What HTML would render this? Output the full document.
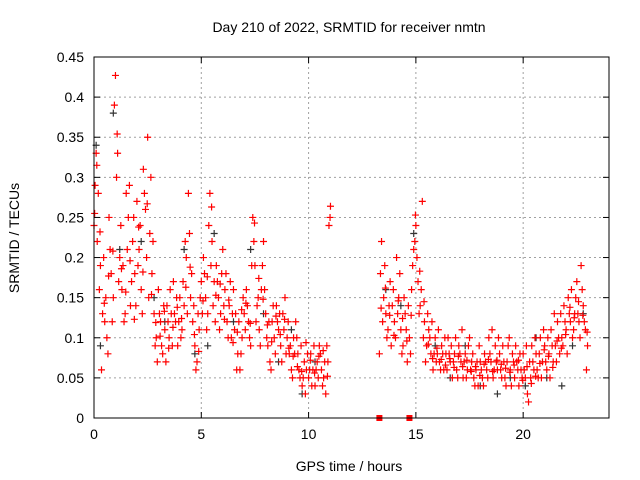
<!DOCTYPE html>
<html><head><meta charset="utf-8"><style>
body{margin:0;background:#fff;}
svg{display:block;font-family:"Liberation Sans",sans-serif;}
</style></head><body>
<svg id="chart" width="640" height="480">
<g id="grid"></g>
<g id="marks"></g>
<rect x="94" y="57" width="515" height="361" fill="none" stroke="#000" stroke-width="1"/>
<g id="axes"></g>
<text x="349" y="32" text-anchor="middle" font-size="14">Day 210 of 2022, SRMTID for receiver nmtn</text>
<text x="349" y="471" text-anchor="middle" font-size="14">GPS time / hours</text>
<text transform="translate(19,238) rotate(-90)" text-anchor="middle" font-size="14">SRMTID / TECUs</text>
</svg>
<script>
const xTicks=[0,5,10,15,20];
const yTicks=[0,0.05,0.1,0.15,0.2,0.25,0.3,0.35,0.4,0.45];
const yTickLabels=["0","0.05","0.1","0.15","0.2","0.25","0.3","0.35","0.4","0.45"];
const redPoints=[[0.0,0.24],[0.1,0.33],[0.2,0.28],[0.3,0.19],[0.4,0.13],[0.5,0.12],[0.6,0.10],[0.7,0.25],[0.8,0.18],[0.9,0.15],[1.0,0.427],[1.1,0.33],[1.2,0.20],[1.3,0.16],[1.4,0.12],[1.5,0.28],[1.6,0.25],[1.7,0.14],[1.8,0.22],[1.9,0.18],[2.0,0.27],[2.1,0.21],[2.2,0.16],[2.3,0.31],[2.4,0.26],[2.5,0.35],[2.6,0.23],[2.7,0.18],[2.8,0.13],[2.9,0.10],[3.0,0.16],[3.1,0.12],[3.2,0.08],[3.3,0.11],[3.4,0.14],[3.5,0.10],[3.6,0.13],[3.7,0.17],[3.8,0.12],[3.9,0.09],[4.0,0.15],[4.1,0.11],[4.2,0.14],[4.3,0.20],[4.4,0.28],[4.5,0.15],[4.6,0.12],[4.7,0.09],[4.8,0.07],[4.9,0.11],[5.0,0.17],[5.1,0.20],[5.2,0.15],[5.3,0.13],[5.4,0.28],[5.5,0.22],[5.6,0.17],[5.7,0.19],[5.8,0.15],[5.9,0.13],[6.0,0.21],[6.1,0.16],[6.2,0.12],[6.3,0.14],[6.4,0.10],[6.5,0.16],[6.6,0.13],[6.7,0.08],[6.8,0.06],[6.9,0.10],[7.0,0.13],[7.1,0.16],[7.2,0.12],[7.3,0.09],[7.4,0.25],[7.5,0.19],[7.6,0.14],[7.7,0.11],[7.8,0.16],[7.9,0.22],[8.0,0.13],[8.1,0.09],[8.2,0.07],[8.3,0.12],[8.4,0.10],[8.5,0.14],[8.6,0.11],[8.7,0.09],[8.8,0.13],[8.9,0.15],[9.0,0.10],[9.1,0.08],[9.2,0.06],[9.3,0.10],[9.4,0.12],[9.5,0.08],[9.6,0.05],[9.7,0.04],[9.8,0.07],[9.9,0.06],[10.0,0.05],[10.1,0.08],[10.2,0.06],[10.3,0.04],[10.4,0.07],[10.5,0.09],[10.6,0.06],[10.7,0.05],[10.8,0.03],[10.9,0.07],[11.0,0.25],
[13.3,0.08],[13.4,0.22],[13.5,0.15],[13.6,0.13],[13.7,0.11],[13.8,0.17],[13.9,0.14],[14.0,0.12],[14.1,0.20],[14.2,0.15],[14.3,0.11],[14.4,0.09],[14.5,0.13],[14.6,0.07],[14.7,0.10],[14.8,0.16],[14.9,0.21],[15.0,0.24],[15.1,0.17],[15.2,0.14],[15.3,0.27],[15.4,0.12],[15.5,0.09],[15.6,0.11],[15.7,0.08],[15.8,0.06],[15.9,0.10],[16.0,0.08],[16.1,0.07],[16.2,0.09],[16.3,0.06],[16.4,0.08],[16.5,0.10],[16.6,0.07],[16.7,0.05],[16.8,0.08],[16.9,0.06],[17.0,0.09],[17.1,0.07],[17.2,0.05],[17.3,0.08],[17.4,0.06],[17.5,0.10],[17.6,0.07],[17.7,0.05],[17.8,0.06],[17.9,0.04],[18.0,0.07],[18.1,0.05],[18.2,0.08],[18.3,0.06],[18.4,0.10],[18.5,0.07],[18.6,0.05],[18.7,0.09],[18.8,0.06],[18.9,0.08],[19.0,0.05],[19.1,0.07],[19.2,0.04],[19.3,0.09],[19.4,0.06],[19.5,0.08],[19.6,0.05],[19.7,0.07],[19.8,0.04],[19.9,0.06],[20.0,0.08],[20.1,0.05],[20.2,0.03],[20.3,0.07],[20.4,0.09],[20.5,0.06],[20.6,0.08],[20.7,0.05],[20.8,0.10],[20.9,0.07],[21.0,0.09],[21.1,0.06],[21.2,0.08],[21.3,0.11],[21.4,0.07],[21.5,0.09],[21.6,0.12],[21.7,0.08],[21.8,0.10],[21.9,0.14],[22.0,0.11],[22.1,0.15],[22.2,0.12],[22.3,0.10],[22.4,0.13],[22.5,0.17],[22.6,0.12],[22.7,0.19],[22.8,0.14],[22.9,0.11],[23.0,0.09]];
const redPoints2=[[0.05,0.29],[0.15,0.22],[0.25,0.16],[0.35,0.06],[0.45,0.20],[0.55,0.15],[0.65,0.08],[0.75,0.21],[0.85,0.12],[0.95,0.39],[1.05,0.30],[1.15,0.17],[1.25,0.24],[1.35,0.19],[1.45,0.13],[1.55,0.21],[1.65,0.29],[1.75,0.17],[1.85,0.25],[1.95,0.14],[2.05,0.19],[2.15,0.24],[2.25,0.13],[2.35,0.28],[2.45,0.20],[2.55,0.15],[2.65,0.30],[2.75,0.22],[2.85,0.09],[2.95,0.07],[3.05,0.13],[3.15,0.09],[3.25,0.14],[3.35,0.07],[3.45,0.12],[3.55,0.16],[3.65,0.09],[3.75,0.13],[3.85,0.15],[3.95,0.12],[4.05,0.10],[4.15,0.17],[4.25,0.22],[4.35,0.13],[4.45,0.23],[4.55,0.18],[4.65,0.14],[4.75,0.06],[4.85,0.13],[4.95,0.15],[5.05,0.13],[5.15,0.18],[5.25,0.11],[5.35,0.24],[5.45,0.19],[5.55,0.14],[5.65,0.12],[5.75,0.17],[5.85,0.11],[5.95,0.18],[6.05,0.14],[6.15,0.18],[6.25,0.10],[6.35,0.17],[6.45,0.13],[6.55,0.11],[6.65,0.06],[6.75,0.12],[6.85,0.08],[6.95,0.15],[7.05,0.11],[7.15,0.14],[7.25,0.10],[7.35,0.19],[7.45,0.22],[7.55,0.12],[7.65,0.15],[7.75,0.09],[7.85,0.19],[7.95,0.16],[8.05,0.10],[8.15,0.12],[8.25,0.06],[8.35,0.14],[8.45,0.08],[8.55,0.12],[8.65,0.13],[8.75,0.07],[8.85,0.11],[8.95,0.08],[9.05,0.12],[9.15,0.09],[9.25,0.05],[9.35,0.08],[9.45,0.10],[9.55,0.06],[9.65,0.09],[9.75,0.05],[9.85,0.03],[9.95,0.08],[10.05,0.06],[10.15,0.04],[10.25,0.09],[10.35,0.06],[10.45,0.05],[10.55,0.08],[10.65,0.04],[10.75,0.07],[10.85,0.09],[10.95,0.24],
[13.35,0.18],[13.45,0.12],[13.55,0.19],[13.65,0.10],[13.75,0.14],[13.85,0.09],[13.95,0.16],[14.05,0.10],[14.15,0.13],[14.25,0.18],[14.35,0.08],[14.45,0.15],[14.55,0.11],[14.65,0.14],[14.75,0.08],[14.85,0.19],[14.95,0.22],[15.05,0.20],[15.15,0.13],[15.25,0.16],[15.35,0.10],[15.45,0.07],[15.55,0.13],[15.65,0.10],[15.75,0.12],[15.85,0.08],[15.95,0.07],[16.05,0.11],[16.15,0.06],[16.25,0.08],[16.35,0.10],[16.45,0.06],[16.55,0.08],[16.65,0.09],[16.75,0.07],[16.85,0.10],[16.95,0.05],[17.05,0.08],[17.15,0.11],[17.25,0.07],[17.35,0.05],[17.45,0.09],[17.55,0.06],[17.65,0.08],[17.75,0.04],[17.85,0.07],[17.95,0.09],[18.05,0.06],[18.15,0.04],[18.25,0.07],[18.35,0.05],[18.45,0.08],[18.55,0.11],[18.65,0.06],[18.75,0.07],[18.85,0.10],[18.95,0.06],[19.05,0.09],[19.15,0.05],[19.25,0.07],[19.35,0.10],[19.45,0.04],[19.55,0.07],[19.65,0.09],[19.75,0.06],[19.85,0.08],[19.95,0.05],[20.05,0.06],[20.15,0.09],[20.25,0.02],[20.35,0.05],[20.45,0.07],[20.55,0.10],[20.65,0.06],[20.75,0.08],[20.85,0.05],[20.95,0.11],[21.05,0.07],[21.15,0.10],[21.25,0.05],[21.35,0.09],[21.45,0.13],[21.55,0.07],[21.65,0.10],[21.75,0.13],[21.85,0.09],[21.95,0.12],[22.05,0.08],[22.15,0.13],[22.25,0.16],[22.35,0.11],[22.45,0.15],[22.55,0.13],[22.65,0.10],[22.75,0.16],[22.85,0.12],[22.95,0.06]];
const redPoints3=[[0.03,0.255],[0.13,0.315],[0.28,0.232],[0.48,0.143],[0.68,0.177],[0.88,0.208],[1.08,0.354],[1.28,0.186],[1.48,0.157],[1.68,0.196],[1.88,0.123],[2.08,0.238],[2.28,0.182],[2.48,0.267],[2.68,0.154],[2.88,0.119],[3.08,0.102],[3.28,0.133],[3.48,0.087],[3.68,0.113],[3.88,0.138],[4.08,0.124],[4.28,0.163],[4.48,0.188],[4.68,0.104],[4.88,0.083],[5.08,0.146],[5.28,0.176],[5.48,0.263],[5.68,0.153],[5.88,0.167],[6.08,0.123],[6.28,0.147],[6.48,0.094],[6.68,0.107],[6.88,0.135],[7.08,0.143],[7.28,0.118],[7.48,0.243],[7.68,0.174],[7.88,0.148],[8.08,0.116],[8.28,0.095],[8.48,0.127],[8.68,0.104],[8.88,0.123],[9.08,0.087],[9.28,0.077],[9.48,0.064],[9.68,0.058],[9.88,0.094],[10.08,0.072],[10.28,0.056],[10.48,0.077],[10.68,0.084],[10.88,0.052],[11.02,0.264],
[13.38,0.137],[13.58,0.162],[13.78,0.128],[13.98,0.103],[14.18,0.146],[14.38,0.124],[14.58,0.096],[14.78,0.128],[14.98,0.253],[15.18,0.183],[15.38,0.145],[15.58,0.092],[15.78,0.074],[15.98,0.087],[16.18,0.073],[16.38,0.066],[16.58,0.074],[16.78,0.063],[16.98,0.077],[17.18,0.064],[17.38,0.072],[17.58,0.058],[17.78,0.064],[17.98,0.053],[18.18,0.067],[18.38,0.073],[18.58,0.058],[18.78,0.072],[18.98,0.067],[19.18,0.062],[19.38,0.057],[19.58,0.066],[19.78,0.072],[19.98,0.047],[20.18,0.064],[20.38,0.043],[20.58,0.052],[20.78,0.068],[20.98,0.085],[21.18,0.077],[21.38,0.063],[21.58,0.096],[21.78,0.087],[21.98,0.104],[22.18,0.138],[22.38,0.125],[22.58,0.145],[22.78,0.128],[22.98,0.107]];
const blackPoints=[[0.1,0.34],[0.3,0.09],[0.9,0.38],[1.2,0.21],[2.2,0.22],[2.8,0.15],[3.3,0.12],[4.2,0.21],[4.7,0.08],[5.3,0.09],[5.6,0.23],[6.5,0.12],[7.3,0.21],[7.9,0.13],[8.6,0.07],[9.2,0.11],[9.7,0.03],[10.3,0.07],[13.6,0.16],[14.3,0.14],[14.9,0.23],[15.9,0.09],[16.6,0.05],[17.3,0.09],[18.0,0.04],[18.8,0.03],[19.4,0.05],[20.1,0.04],[20.6,0.10],[21.1,0.05],[21.8,0.04],[22.3,0.09],[22.8,0.13]];
const zeroMarkers=[13.3,14.7];
const X0=94,X1=609,Y0=418,Y1=57,XMAX=24,YMAX=0.45;
function xs(t){return X0+(X1-X0)*t/XMAX;}
function ys(v){return Y0-(Y0-Y1)*v/YMAX;}
const NS='http://www.w3.org/2000/svg';
function mk(tag,attrs,parent){const e=document.createElementNS(NS,tag);for(const k in attrs)e.setAttribute(k,attrs[k]);parent.appendChild(e);return e;}
const grid=document.getElementById('grid'),axes=document.getElementById('axes'),marks=document.getElementById('marks');
xTicks.forEach(t=>{const x=xs(t);
 if(t>0){const g=mk('line',{x1:x,x2:x,y1:Y1,y2:Y0,stroke:'#a0a0a0','stroke-dasharray':'2,3'},grid);
 
 }
 mk('line',{x1:x,x2:x,y1:Y0,y2:Y0-6,stroke:'#000'},axes);mk('line',{x1:x,x2:x,y1:Y1,y2:Y1+6,stroke:'#000'},axes);
 const l=mk('text',{x:x,y:Y0+21,'text-anchor':'middle','font-size':'14'},axes);l.textContent=String(t);
 
 });
yTicks.forEach((v,i)=>{const y=ys(v);
 if(i>0&&i<yTicks.length-1){const g=mk('line',{x1:X0,x2:X1,y1:y,y2:y,stroke:'#a0a0a0','stroke-dasharray':'2,3'},grid);
 
 }
 mk('line',{x1:X0,x2:X0+6,y1:y,y2:y,stroke:'#000'},axes);mk('line',{x1:X1,x2:X1-6,y1:y,y2:y,stroke:'#000'},axes);
 const l=mk('text',{x:X0-10,y:y+5,'text-anchor':'end','font-size':'14'},axes);l.textContent=yTickLabels[i];
 
 });
function plus(p,color,name){const x=xs(p[0]),y=ys(p[1]);
 const e=mk('path',{d:`M${x-3.5},${y}h7M${x},${y-3.5}v7`,stroke:color,'stroke-width':'1.2',fill:'none'},marks);
 
 }
blackPoints.forEach(p=>plus(p,'#333','black-point'));
redPoints.forEach(p=>plus(p,'#f00','red-point'));
redPoints2.forEach(p=>plus(p,'#f00','red-point'));
redPoints3.forEach(p=>plus(p,'#f00','red-point'));
zeroMarkers.forEach(t=>{const e=mk('rect',{x:xs(t)-3,y:Y0-3,width:6,height:6,fill:'#f00'},marks);
 
 });
</script>
</body></html>
